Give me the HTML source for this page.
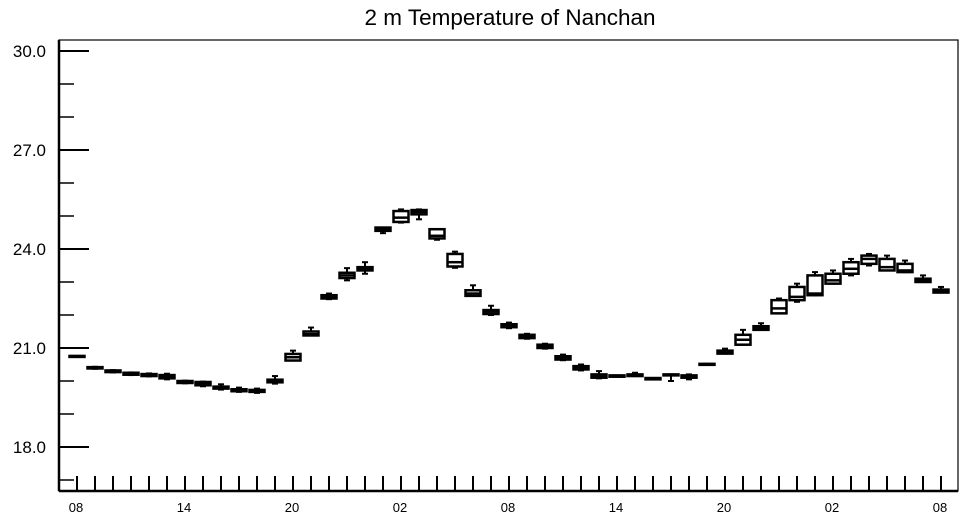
<!DOCTYPE html>
<html><head><meta charset="utf-8"><style>
html,body{margin:0;padding:0;background:#fff;}
svg{display:block;font-family:"Liberation Sans",Arial,sans-serif;}
</style></head><body>
<svg id="chart" width="964" height="520" viewBox="0 0 964 520">
<text x="510" y="25" text-anchor="middle" font-size="22.5">2 m Temperature of Nanchan</text>
<g id="axes"></g>
<g id="boxes"></g>
</svg>
<script>
const med=[20.75,20.4,20.3,20.22,20.18,20.12,19.97,19.92,19.8,19.72,19.7,20.0,20.72,21.42,22.55,23.2,23.4,24.6,24.95,25.12,24.4,23.6,22.65,22.1,21.68,21.35,21.05,20.7,20.4,20.15,20.15,20.18,20.07,20.18,20.13,20.5,20.88,21.25,21.6,22.2,22.55,22.65,23.05,23.4,23.7,23.45,23.35,23.05,22.72];
const q1=[20.74,20.38,20.27,20.19,20.15,20.08,19.94,19.87,19.77,19.69,19.67,19.96,20.62,21.38,22.5,23.12,23.35,24.55,24.82,25.05,24.32,23.47,22.58,22.03,21.63,21.3,21.0,20.65,20.35,20.1,20.13,20.15,20.05,20.17,20.1,20.49,20.83,21.1,21.55,22.05,22.45,22.6,22.95,23.25,23.55,23.35,23.3,23.0,22.68];
const q3=[20.76,20.42,20.32,20.25,20.21,20.18,20.0,19.97,19.83,19.75,19.73,20.04,20.82,21.5,22.6,23.28,23.45,24.65,25.15,25.18,24.6,23.85,22.75,22.15,21.72,21.4,21.1,20.75,20.45,20.2,20.17,20.2,20.09,20.2,20.17,20.52,20.92,21.4,21.66,22.45,22.85,23.2,23.25,23.6,23.8,23.7,23.55,23.1,22.77];
const lo=[20.74,20.37,20.26,20.18,20.14,20.05,19.93,19.84,19.74,19.67,19.64,19.92,20.62,21.38,22.48,23.05,23.25,24.48,24.8,24.9,24.28,23.43,22.58,22.0,21.6,21.28,20.98,20.63,20.32,20.08,20.13,20.15,20.05,20.0,20.05,20.49,20.83,21.1,21.55,22.05,22.4,22.6,22.95,23.2,23.5,23.35,23.3,23.0,22.68];
const hi=[20.76,20.43,20.33,20.26,20.23,20.22,20.01,19.98,19.9,19.8,19.77,20.15,20.92,21.62,22.65,23.42,23.6,24.65,25.2,25.2,24.6,23.92,22.9,22.28,21.77,21.43,21.13,20.8,20.5,20.3,20.17,20.25,20.09,20.2,20.2,20.52,20.98,21.55,21.75,22.5,22.95,23.3,23.35,23.7,23.85,23.8,23.65,23.2,22.85];
const yMajor=[18,21,24,27,30];
const yMinor=[17,19,20,22,23,25,26,28,29];
const xLabels=["08","14","20","02","08","14","20","02","08"];

const NS="http://www.w3.org/2000/svg";
const L=59,R=958,T=40,B=491;
const y=v=>447-(v-18)*33;
const x=i=>77+18*i;
function mk(tag,attrs,parent){const e=document.createElementNS(NS,tag);for(const k in attrs)e.setAttribute(k,attrs[k]);parent.appendChild(e);return e;}
const ax=document.getElementById('axes');
const frame=mk('rect',{x:L,y:T,width:R-L,height:B-T,fill:'none',stroke:'#000','stroke-width':1.2},ax);


const xl=mk('line',{x1:L,y1:B,x2:R,y2:B,stroke:'#000','stroke-width':2.5},ax);


const yl=mk('line',{x1:L,y1:T,x2:L,y2:B,stroke:'#000','stroke-width':2.5},ax);


yMajor.forEach(v=>{
  const t=mk('line',{x1:L,y1:y(v),x2:L+30,y2:y(v),stroke:'#000','stroke-width':2},ax);
  
  
  const tx=mk('text',{x:46,y:y(v)+6,'text-anchor':'end','font-size':17},ax);
  tx.textContent=v.toFixed(1);
  
  
});
yMinor.forEach(v=>{
  const t=mk('line',{x1:L,y1:y(v),x2:L+15,y2:y(v),stroke:'#000','stroke-width':1.5},ax);
  
  
});
for(let i=0;i<med.length;i++){
  const t=mk('line',{x1:x(i),y1:B,x2:x(i),y2:B-15,stroke:'#000','stroke-width':2},ax);
  
  
}
xLabels.forEach((s,k)=>{
  const tx=mk('text',{x:x(k*6)-1,y:512,'text-anchor':'middle','font-size':13},ax);
  tx.textContent=s;
  
  
});
const bx=document.getElementById('boxes');
for(let i=0;i<med.length;i++){
  const g=mk('g',{stroke:'#000','stroke-width':2.5,fill:'none'},bx);
  
  
  const cx=x(i);
  mk('line',{x1:cx,y1:y(hi[i]),x2:cx,y2:y(lo[i]),'stroke-width':2},g);
  mk('line',{x1:cx-3,y1:y(hi[i]),x2:cx+3,y2:y(hi[i]),'stroke-width':2},g);
  mk('line',{x1:cx-3,y1:y(lo[i]),x2:cx+3,y2:y(lo[i]),'stroke-width':2},g);
  const top=y(q3[i]),bot=y(q1[i]);
  mk('rect',{x:cx-7.5,y:top,width:15,height:Math.max(bot-top,1),fill:'#fff'},g);
  mk('line',{x1:cx-7.5,y1:y(med[i]),x2:cx+7.5,y2:y(med[i])},g);
}
</script>
</body></html>
